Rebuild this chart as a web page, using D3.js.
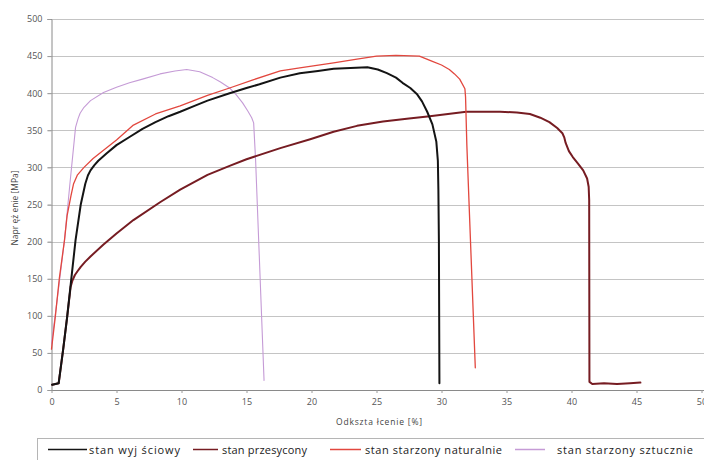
<!DOCTYPE html>
<html>
<head>
<meta charset="utf-8">
<script src="https://cdn.jsdelivr.net/npm/d3@7"></script>
<style>
  html, body { margin: 0; padding: 0; background: #fff; }
  svg { display: block; }
  text { font-family: "Open Sans", "Liberation Sans", sans-serif; }
</style>
</head>
<body>
<svg id="chart" width="704" height="460"></svg>
<script>
// Tensile test curves: strain [%] vs. stress [MPa]
const seriesNames = ["stan wyj ściowy", "stan przesycony", "stan starzony naturalnie", "stan starzony sztucznie"];
const seriesColors = ["#141414", "#761c22", "#e2473e", "#c59bd6"];

const strainWyjsciowy = [0.05, 0.3, 0.55, 0.9, 1.2, 1.5, 1.85, 2.25, 2.6, 2.8, 3.0, 3.3, 3.6, 4.25, 5.0, 6.0, 7.0, 8.0, 9.0, 9.9, 11.0, 12.0, 13.7, 15.0, 16.0, 17.6, 19.1, 20.5, 21.7, 23.0, 24.3, 25.1, 25.8, 26.5, 27.0, 27.6, 28.1, 28.5, 28.9, 29.3, 29.6, 29.72, 29.76, 29.8, 29.84];
const stressWyjsciowy = [7, 8, 9, 55, 98, 146, 202, 250, 278, 289, 296, 303, 309, 319, 330, 341, 352, 361, 369, 375, 383, 390, 400, 407, 412, 421, 427, 430, 433, 434, 435, 432, 427, 421, 414, 407, 399, 389, 375, 358, 335, 309, 270, 200, 9];

const strainPrzesycony = [0.05, 0.3, 0.55, 0.9, 1.2, 1.47, 1.6, 1.8, 2.0, 2.25, 2.6, 3.0, 4.0, 5.0, 6.3, 8.35, 9.9, 12.0, 13.7, 15.0, 17.6, 19.9, 21.7, 23.5, 25.5, 27.5, 29.1, 30.5, 31.9, 33.0, 34.5, 35.8, 36.8, 37.6, 38.3, 38.9, 39.3, 39.45, 39.55, 39.8, 40.1, 40.5, 40.9, 41.2, 41.32, 41.36, 41.38, 41.6, 42.5, 43.5, 44.5, 45.3];
const stressPrzesycony = [7, 8, 9, 55, 98, 139, 147, 155, 160, 166, 173, 180, 196, 211, 229, 253, 270, 290, 302, 311, 326, 338, 348, 356, 362, 366, 369, 372, 375, 375, 375, 374, 372, 367, 361, 353, 346, 340, 333, 322, 314, 305, 296, 285, 274, 256, 11, 8, 9, 8, 9, 10];

const strainNaturalnie = [0, 0.3, 0.6, 1.0, 1.2, 1.5, 1.7, 2.0, 2.5, 3.2, 4.0, 5.0, 6.3, 8.0, 9.9, 12.0, 13.7, 15.5, 17.6, 19.1, 21.7, 23.5, 25.0, 26.5, 28.3, 29.3, 30.0, 30.6, 31.0, 31.4, 31.8, 31.85, 31.95, 32.6];
const stressNaturalnie = [55, 100, 150, 202, 235, 262, 278, 290, 300, 312, 323, 337, 357, 372, 383, 397, 407, 418, 430, 434, 441, 446, 450, 451, 450, 443, 438, 432, 426, 419, 406, 395, 330, 30];

const strainSztucznie = [0, 0.3, 0.6, 1.0, 1.4, 1.85, 2.05, 2.2, 2.5, 3.0, 4.0, 5.0, 6.0, 7.0, 8.35, 9.5, 10.4, 11.4, 12.4, 13.0, 13.7, 14.2, 14.7, 15.1, 15.4, 15.55, 15.7, 16.35];
const stressSztucznie = [62, 103, 145, 202, 275, 354, 366, 373, 381, 390, 401, 408, 414, 419, 426, 430, 432, 429, 421, 415, 407, 398, 387, 376, 367, 360, 310, 13];

const xTicks = [0, 5, 10, 15, 20, 25, 30, 35, 40, 45, 50];
const yTicks = [0, 50, 100, 150, 200, 250, 300, 350, 400, 450, 500];

const xTitle = "Odkszta łcenie [%]";
const yTitle = "Napr ęż enie [MPa]";

const series = [
  { name: seriesNames[0], color: seriesColors[0], width: 2.0, xs: strainWyjsciowy, ys: stressWyjsciowy },
  { name: seriesNames[1], color: seriesColors[1], width: 2.0, xs: strainPrzesycony, ys: stressPrzesycony },
  { name: seriesNames[2], color: seriesColors[2], width: 1.3, xs: strainNaturalnie, ys: stressNaturalnie },
  { name: seriesNames[3], color: seriesColors[3], width: 1.1, xs: strainSztucznie, ys: stressSztucznie }
];

const svg = d3.select("#chart");
const plotLeft = 51.5, plotRight = 701.5, plotTop = 19, plotBottom = 390;

const x = d3.scaleLinear().domain([0, 50]).range([plotLeft, plotRight]);
const y = d3.scaleLinear().domain([0, 500]).range([plotBottom, plotTop]);

// horizontal gridlines
svg.append("g")
  .selectAll("line")
  .data(yTicks.filter(d => d > 0))
  .join("line")
  .attr("x1", plotLeft - 4).attr("x2", 704)
  .attr("y1", d => Math.round(y(d)) + 0.5).attr("y2", d => Math.round(y(d)) + 0.5)
  .attr("stroke", "#c4c4c4").attr("stroke-width", 1);

// y axis
const yAxis = svg.append("g")
  .attr("transform", `translate(${plotLeft},0)`)
  .call(d3.axisLeft(y).tickValues(yTicks).tickSize(4).tickPadding(5));
yAxis.select(".domain").attr("stroke", "#8a8a8a");
yAxis.selectAll(".tick line").attr("stroke", "#9a9a9a");
yAxis.selectAll(".tick text").attr("fill", "#555").style("font-size", "9px");

// x axis
const xAxis = svg.append("g")
  .attr("transform", `translate(0,${plotBottom})`)
  .call(d3.axisBottom(x).tickValues(xTicks).tickSize(3).tickPadding(6));
xAxis.select(".domain").attr("stroke", "#8a8a8a").attr("d", `M${plotLeft},0.5H704`);
xAxis.selectAll(".tick line").attr("stroke", "#9a9a9a");
xAxis.selectAll(".tick text").attr("fill", "#555").style("font-size", "9px");

// axis titles
svg.append("text")
  .attr("x", 379).attr("y", 425)
  .attr("text-anchor", "middle")
  .attr("fill", "#444").style("font-size", "8.5px")
  .attr("textLength", 86).attr("lengthAdjust", "spacing")
  .text(xTitle);
svg.append("text")
  .attr("transform", "translate(18,208) rotate(-90)")
  .attr("text-anchor", "middle")
  .attr("fill", "#444").style("font-size", "8.5px")
  .text(yTitle);

// curves
const line = d3.line()
  .x(d => x(d[0]))
  .y(d => y(d[1]));

const drawOrder = [3, 1, 2, 0];
svg.append("g")
  .selectAll("path")
  .data(drawOrder.map(i => series[i]))
  .join("path")
  .attr("d", s => line(s.xs.map((v, i) => [v, s.ys[i]])))
  .attr("fill", "none")
  .attr("stroke", s => s.color)
  .attr("stroke-width", s => s.width)
  .attr("stroke-linejoin", "round")
  .attr("stroke-linecap", "round");

// legend
const legend = svg.append("g");
legend.append("rect")
  .attr("x", 37.5).attr("y", 438.5)
  .attr("width", 700).attr("height", 30)
  .attr("fill", "#fff").attr("stroke", "#b5b5b5");

const legendItems = [
  { x1: 48, x2: 87, tx: 89, len: 91 },
  { x1: 193, x2: 218, tx: 222, len: 85 },
  { x1: 330, x2: 361, tx: 365, len: 137 },
  { x1: 515, x2: 545, tx: 557, len: 136 }
];
legendItems.forEach((p, i) => {
  legend.append("line")
    .attr("x1", p.x1).attr("x2", p.x2)
    .attr("y1", 449.5).attr("y2", 449.5)
    .attr("stroke", series[i].color).attr("stroke-width", 1.5);
  legend.append("text")
    .attr("x", p.tx).attr("y", 453.5)
    .attr("fill", "#222").style("font-size", "11px")
    .attr("textLength", p.len).attr("lengthAdjust", "spacing")
    .text(series[i].name);
});
</script>
</body>
</html>
